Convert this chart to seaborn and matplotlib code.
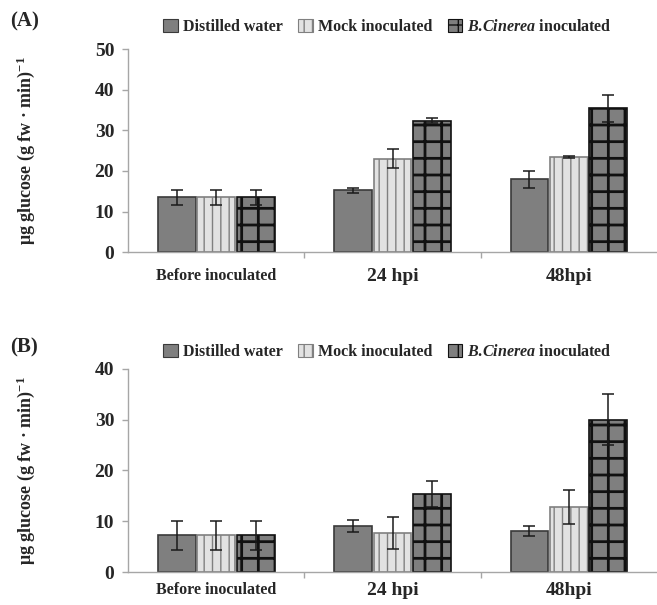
import numpy as np
import pandas as pd
import matplotlib
matplotlib.use('Agg')
import matplotlib.pyplot as plt
import seaborn as sns
from matplotlib.patches import Patch
from matplotlib.ticker import FixedLocator

# Dados
categorias = ['Before inoculated', '24 hpi', '48hpi']
tratamentos = ['Distilled water', 'Mock inoculated', 'B.Cinerea inoculated']

a_distilled = [13.5, 15.2, 18.0]
a_mock = [13.5, 23.0, 23.5]
a_bcin = [13.5, 32.4, 35.4]
a_err_distilled = [1.9, 0.5, 2.1]
a_err_mock = [1.9, 2.3, 0.2]
a_err_bcin = [1.9, 0.7, 3.3]

b_distilled = [7.2, 9.1, 8.1]
b_mock = [7.2, 7.7, 12.8]
b_bcin = [7.2, 15.3, 30.0]
b_err_distilled = [2.9, 1.2, 1.0]
b_err_mock = [2.9, 3.1, 3.4]
b_err_bcin = [2.9, 2.6, 5.0]

sns.set_style('white')
plt.rcParams['font.family'] = ['Liberation Serif', 'DejaVu Serif']
plt.rcParams['mathtext.fontset'] = 'custom'
plt.rcParams['mathtext.rm'] = 'Liberation Serif:bold'
plt.rcParams['mathtext.it'] = 'Liberation Serif:italic:bold'
plt.rcParams['mathtext.bf'] = 'Liberation Serif:bold'
plt.rcParams['hatch.linewidth'] = 1.0

# Estilos por tratamento
estilos = [
    dict(facecolor='#7f7f7f', edgecolor='#3a3a3a', hatch=None, hlw=1.0),
    dict(facecolor='#e2e2e2', edgecolor='#808080', hatch='||', hlw=1.0),
    dict(facecolor='#7f7f7f', edgecolor='#111111', hatch='+', hlw=2.0),
]
rotulos_legenda = ['Distilled water', 'Mock inoculated',
                   r'$\mathit{B.\!Cinerea}$ inoculated']


def montar_df(series):
    linhas = []
    for trat, vals in zip(tratamentos, series):
        for cat, v in zip(categorias, vals):
            linhas.append({'categoria': cat, 'tratamento': trat, 'valor': v})
    return pd.DataFrame(linhas)


def painel(ax, series, erros, ymax, letra, letra_y, leg_y, xpad, fig):
    df = montar_df(series)
    sns.barplot(data=df, x='categoria', y='valor', hue='tratamento',
                order=categorias, hue_order=tratamentos, errorbar=None,
                width=0.67, gap=0.04, ax=ax, legend=False,
                palette=[e['facecolor'] for e in estilos])

    for cont, est, err in zip(ax.containers, estilos, erros):
        xs, ys = [], []
        for bar in cont:
            bar.set_facecolor(est['facecolor'])
            bar.set_edgecolor(est['edgecolor'])
            bar.set_linewidth(1.2)
            if est['hatch']:
                bar.set_hatch(est['hatch'])
                if hasattr(bar, 'set_hatch_linewidth'):
                    bar.set_hatch_linewidth(est['hlw'])
            xs.append(bar.get_x() + bar.get_width() / 2)
            ys.append(bar.get_height())
        ax.errorbar(xs, ys, yerr=err, fmt='none', ecolor='#1a1a1a',
                    elinewidth=1.1, capsize=4, capthick=1.1, zorder=5)

    ax.set_xlim(-0.5, 2.5)
    ax.set_ylim(0, ymax)
    ax.set_yticks(np.arange(0, ymax + 1, 10))
    ax.set_xlabel('')
    ax.set_ylabel(r'μg glucose (g fw · min)$^{-1}$', fontsize=13,
                  fontweight='bold')
    ax.yaxis.set_label_coords(-0.172, 0.5)

    for s in ['top', 'right']:
        ax.spines[s].set_visible(False)
    for s in ['left', 'bottom']:
        ax.spines[s].set_color('#a6a6a6')
        ax.spines[s].set_linewidth(1.0)

    ax.tick_params(axis='y', which='major', length=4, width=1,
                   color='#a6a6a6', pad=6, left=True)
    ax.tick_params(axis='x', which='major', length=0, pad=xpad)
    ax.xaxis.set_minor_locator(FixedLocator([0.5, 1.5]))
    ax.tick_params(axis='x', which='minor', length=4, width=1,
                   color='#a6a6a6', bottom=True)
    for lab in ax.get_yticklabels():
        lab.set_fontsize(14)
        lab.set_fontweight('bold')
    for lab in ax.get_xticklabels():
        lab.set_fontweight('bold')
        lab.set_fontsize(11.5 if lab.get_text() == 'Before inoculated' else 14)

    handles = [Patch(facecolor=e['facecolor'], edgecolor=e['edgecolor'],
                     hatch=e['hatch'], linewidth=0.8) for e in estilos]
    fig.legend(handles, rotulos_legenda, loc='center', ncol=3,
               bbox_to_anchor=(0.59, leg_y), bbox_transform=fig.transFigure,
               frameon=False, handlelength=0.9, handleheight=0.9,
               handletextpad=0.3, columnspacing=1.0,
               prop={'weight': 'bold', 'size': 11.5})

    fig.text(0.015, letra_y, letra, fontsize=15,
             fontweight='bold', ha='left', va='center')


fig = plt.figure(figsize=(6.57, 6.05), dpi=100)
ax_a = fig.add_axes([0.195, 0.583, 0.805, 0.336])
ax_b = fig.add_axes([0.195, 0.0545, 0.805, 0.336])

painel(ax_a, [a_distilled, a_mock, a_bcin],
       [a_err_distilled, a_err_mock, a_err_bcin], 50, '(A)', 0.964, 0.955,
       11, fig)
painel(ax_b, [b_distilled, b_mock, b_bcin],
       [b_err_distilled, b_err_mock, b_err_bcin], 40, '(B)', 0.425, 0.418,
       7, fig)

fig.savefig('out.png', dpi=100)
plt.close(fig)
